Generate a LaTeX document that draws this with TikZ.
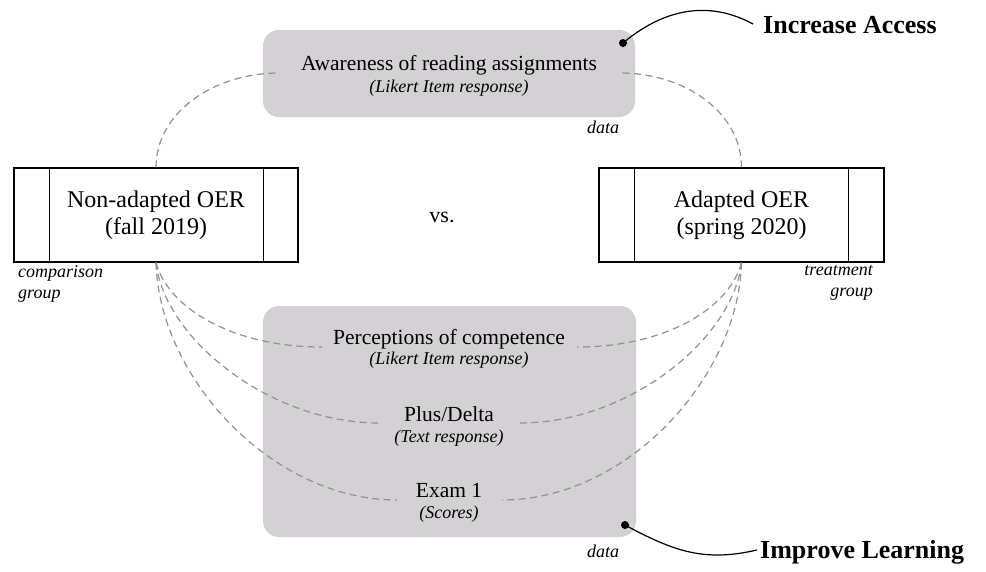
\documentclass[tikz,border=0pt]{standalone}
\usepackage{fontspec}
\setmainfont{Liberation Serif}
\definecolor{boxgray}{RGB}{211,209,211}
\definecolor{dashgray}{RGB}{145,145,145}
\tikzset{
  graybox/.style={fill=boxgray, rounded corners=16pt, draw=none, inner sep=0pt},
  whitebox/.style={draw=black, line width=1.2pt, align=center, inner sep=0pt,
    font=\fontsize{24}{27}\selectfont},
  link/.style={draw=dashgray, line width=1.2pt, dash pattern=on 7pt off 4.5pt},
  head/.style={anchor=base, inner sep=0pt, font=\fontsize{21.5}{24}\selectfont},
  sub/.style={anchor=base, inner sep=0pt, font=\fontsize{18}{20}\selectfont\itshape},
  note/.style={inner sep=0pt, font=\fontsize{18}{21}\selectfont\itshape},
  goal/.style={anchor=base west, inner sep=0pt, font=\fontsize{26}{28}\selectfont\bfseries},
  leader/.style={line width=1.2pt, draw=black},
}
\begin{document}
\begin{tikzpicture}[x=1pt,y=-1pt]
\useasboundingbox (0,0) rectangle (986,571);

% gray data boxes
\node[graybox, minimum width=372pt, minimum height=87pt] (topbox) at (449,73.5) {};
\node[graybox, minimum width=373pt, minimum height=231pt] (botbox) at (449.5,421.5) {};

% groups
\node[whitebox, minimum width=284pt, minimum height=94pt] (L) at (156,215) {Non-adapted OER\\(fall 2019)};
\node[whitebox, minimum width=285pt, minimum height=94pt] (R) at (741.5,215) {Adapted OER\\(spring 2020)};
\draw[line width=1.2pt] ([xshift=36pt]L.north west) -- ([xshift=36pt]L.south west);
\draw[line width=1.2pt] ([xshift=-35pt]L.north east) -- ([xshift=-35pt]L.south east);
\draw[line width=1.2pt] ([xshift=36pt]R.north west) -- ([xshift=36pt]R.south west);
\draw[line width=1.2pt] ([xshift=-36pt]R.north east) -- ([xshift=-36pt]R.south east);

% dashed connector ends
\coordinate (tl) at (279,73);
\coordinate (tr) at (620,73);
\coordinate (p1) at (322,347);
\coordinate (p2) at (379,423);
\coordinate (p3) at (397,500);
\coordinate (q1) at (577,347);
\coordinate (q2) at (520,423);
\coordinate (q3) at (502,500);

\draw[link] (L.north) .. controls +(0,-55) and +(-65,0) .. (tl);
\draw[link] (R.north) .. controls +(0,-55) and +(65,0) .. (tr);
\draw[link] (L.south) .. controls +(12,45) and +(-90,0) .. (p1);
\draw[link] (L.south) .. controls +(8,75) and +(-110,0) .. (p2);
\draw[link] (L.south) .. controls +(3,115) and +(-125,0) .. (p3);
\draw[link] (R.south) .. controls +(-12,45) and +(90,0) .. (q1);
\draw[link] (R.south) .. controls +(-8,75) and +(110,0) .. (q2);
\draw[link] (R.south) .. controls +(-3,115) and +(125,0) .. (q3);

% texts in gray boxes
\node[head] (aw) at (449,70) {Awareness of reading assignments};
\node[sub] (aw2) at (449,92) {(Likert Item response)};
\node[head] (pc) at (449,344) {Perceptions of competence};
\node[sub] (pc2) at (449,364) {(Likert Item response)};
\node[head] (pd) at (449,421) {Plus/Delta};
\node[sub] (pd2) at (449,442) {(Text response)};
\node[head] (ex) at (449,497) {Exam 1};
\node[sub] (ex2) at (449,518) {(Scores)};

\node[note, anchor=base] (d1) at (603,133) {data};
\node[note, anchor=base] (d2) at (603,557) {data};

\node[note, anchor=base west] (cg1) at (18,277) {comparison};
\node[note, anchor=base west] (cg2) at (18,298) {group};
\node[note, anchor=base east] (tg1) at (873,275) {treatment};
\node[note, anchor=base east] (tg2) at (873,296) {group};

\node[anchor=base, inner sep=0pt, font=\fontsize{22}{24}\selectfont] (vs) at (442,222) {vs.};

% goals
\node[goal] (ia) at (763,33) {Increase Access};
\node[goal] (il) at (760,558) {Improve Learning};
\coordinate (dot1) at (623,43);
\coordinate (dot2) at (625,525);
\coordinate (ia-in) at (753,24);
\coordinate (il-in) at (757,550);
\fill (dot1) circle (4pt);
\fill (dot2) circle (4pt);
\draw[leader] (dot1) .. controls (660,12) and (705,-2) .. (ia-in);
\draw[leader] (dot2) .. controls (675,552) and (705,562) .. (il-in);
\end{tikzpicture}
\end{document}
